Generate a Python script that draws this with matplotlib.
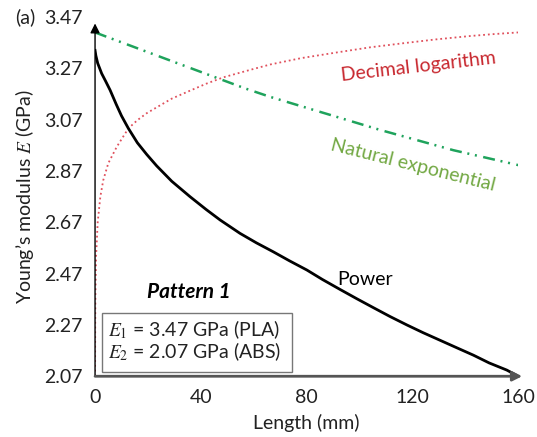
import matplotlib
matplotlib.use("Agg")
import matplotlib.pyplot as plt
from matplotlib.patches import Rectangle

# values
power_x = [0, 0.3, 1, 2.5, 4, 5.7, 8, 10, 12.6, 16, 19.5, 23.3, 29, 35.9, 42,
           47.3, 54.8, 61, 67.4, 73.5, 80.1, 86, 92.7, 99, 105.3, 111.5, 117.9,
           124, 130.5, 137, 143.1, 149, 155.7, 160]
power_e = [3.34, 3.32, 3.29, 3.25, 3.22, 3.185, 3.13, 3.085, 3.036, 2.98,
           2.935, 2.89, 2.83, 2.77, 2.72, 2.679, 2.627, 2.59, 2.555, 2.52,
           2.484, 2.447, 2.408, 2.372, 2.337, 2.303, 2.27, 2.24, 2.21, 2.18,
           2.152, 2.122, 2.094, 2.07]

log_x = [0, 0.02, 0.06, 0.15, 0.4, 1.0, 2.0, 3.1, 5.0, 8.2, 12.6, 16, 19.5,
         23.3, 29, 35.9, 42, 48.5, 58.6, 66.2, 78, 91.4, 104, 116.6, 129,
         141.8, 150, 160]
log_e = [2.07, 2.10, 2.26, 2.39, 2.54, 2.67, 2.77, 2.834, 2.90, 2.964, 3.036,
         3.068, 3.095, 3.118, 3.152, 3.183, 3.21, 3.235, 3.264, 3.285, 3.31,
         3.332, 3.352, 3.368, 3.383, 3.396, 3.403, 3.41]

exp_x = [0, 29.6, 56.7, 66.2, 107.8, 135.5, 160]
exp_e = [3.41, 3.296, 3.192, 3.159, 3.03, 2.951, 2.893]

x_ticks = [0, 40, 80, 120, 160]
y_ticks = [2.07, 2.27, 2.47, 2.67, 2.87, 3.07, 3.27, 3.47]

plt.rcParams['font.family'] = ['Lato', 'DejaVu Sans']
plt.rcParams['mathtext.fontset'] = 'stix'
fs = 14

fig = plt.figure(figsize=(5.37, 4.37), dpi=100)
ax = fig.add_axes([0.177, 0.139, 0.788, 0.822])

ax.plot(exp_x, exp_e, color='#1fa35c', lw=1.8, dashes=(4.8, 2.3, 0.8, 2.3, 0.8, 2.6))
ax.plot(log_x, log_e, color='#e0505c', lw=1.3, linestyle=':')
ax.plot(power_x, power_e, color='black', lw=2.0)

ax.set_xlim(0, 160)
ax.set_ylim(2.07, 3.47)
for s in ax.spines.values():
    s.set_visible(False)

# axes drawn as arrows
ax.annotate('', xy=(0, 3.445), xytext=(0, 2.07), xycoords='data',
            arrowprops=dict(arrowstyle='-|>', color='black', lw=1.0,
                            mutation_scale=14, shrinkA=0, shrinkB=0),
            annotation_clip=False)
ax.annotate('', xy=(161.5, 2.07), xytext=(0, 2.07), xycoords='data',
            arrowprops=dict(arrowstyle='-|>', color='#555555', lw=2.0,
                            mutation_scale=14, shrinkA=0, shrinkB=0),
            annotation_clip=False)

ax.set_xticks(x_ticks)
ax.set_yticks(y_ticks)
ax.set_xticklabels([str(v) for v in x_ticks])
ax.set_yticklabels(['%.2f' % v for v in y_ticks])
ax.tick_params(axis='both', length=0, labelsize=fs, colors='#222222')
ax.tick_params(axis='y', pad=9)
ax.tick_params(axis='x', pad=9)

ax.set_xlabel('Length (mm)', fontsize=fs, color='#222222', labelpad=6)
ax.set_ylabel('Young\u2019s modulus $E$ (GPa)', fontsize=fs, color='#222222', labelpad=6)

fig.text(0.028, 0.961, '(a)', fontsize=fs, va='center', ha='left', color='#222222')

ax.text(122.3, 3.276, 'Decimal logarithm', color='#c8282f', fontsize=fs,
        rotation=6.5, ha='center', va='center', rotation_mode='anchor')
ax.text(120.4, 2.893, 'Natural exponential', color='#72a843', fontsize=fs,
        rotation=-14, ha='center', va='center', rotation_mode='anchor')
ax.text(102.1, 2.448, 'Power', color='black', fontsize=fs, ha='center', va='center')
ax.text(35.6, 2.397, 'Pattern 1', color='black', fontsize=fs + 1,
        fontweight='bold', fontstyle='italic', ha='center', va='center')

ax.add_patch(Rectangle((2.6, 2.086), 71.9, 0.23, fill=False,
                       edgecolor='#777777', lw=1.0, clip_on=False))
ax.text(5.0, 2.251, '$E_1$ = 3.47 GPa (PLA)', fontsize=fs, ha='left', va='center',
        color='#222222')
ax.text(5.0, 2.166, '$E_2$ = 2.07 GPa (ABS)', fontsize=fs, ha='left', va='center',
        color='#222222')

fig.savefig('out.png', dpi=100)
